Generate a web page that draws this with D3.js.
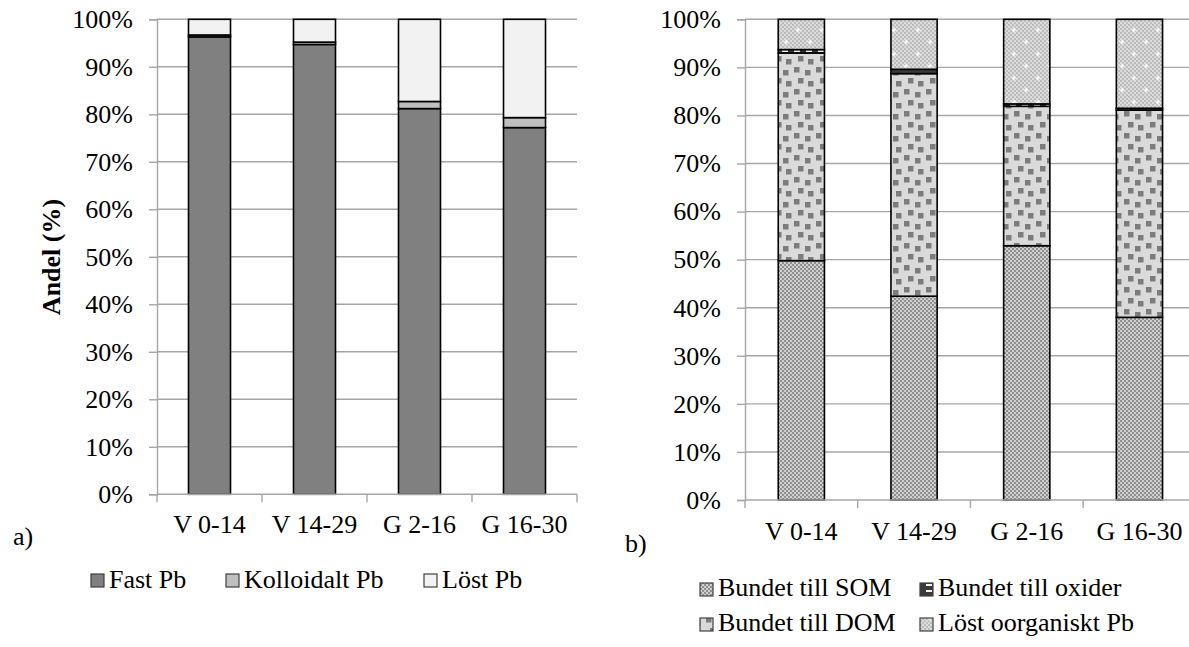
<!DOCTYPE html>
<html>
<head>
<meta charset="utf-8">
<script src="https://cdn.jsdelivr.net/npm/d3@7"></script>
<style>
  html, body { margin: 0; padding: 0; background: #fff; }
  svg { display: block; }
  svg text { font-family: "Liberation Serif", "DejaVu Serif", serif; }
</style>
</head>
<body>
<svg id="chart" width="1189" height="647"></svg>
<script>
// Sample depths
const categories = ["V 0-14", "V 14-29", "G 2-16", "G 16-30"];

// a) Pb fractions (%)
const fastPb       = [96.3, 94.7, 81.2, 77.2];
const kolloidaltPb = [0.4, 0.5, 1.5, 2.1];
const lostPb       = [3.3, 4.8, 17.3, 20.7];

// b) Pb speciation (%)
const bundetSOM     = [49.8, 42.4, 52.9, 38.0];
const bundetDOM     = [43.2, 46.3, 29.0, 43.1];
const bundetOxider  = [0.7, 0.9, 0.5, 0.4];
const lostOrganiskt = [6.3, 10.4, 17.6, 18.5];

const yTicks = [0, 10, 20, 30, 40, 50, 60, 70, 80, 90, 100];

const seriesA = [
  { key: "Fast Pb", values: fastPb },
  { key: "Kolloidalt Pb", values: kolloidaltPb },
  { key: "Löst Pb", values: lostPb }
];
const seriesB = [
  { key: "Bundet till SOM", values: bundetSOM },
  { key: "Bundet till DOM", values: bundetDOM },
  { key: "Bundet till oxider", values: bundetOxider },
  { key: "Löst oorganiskt Pb", values: lostOrganiskt }
];

const svg = d3.select("#chart");
const FONT = 26;
const gridColor = "#a6a6a6";

// ---- fill patterns for panel b ----
const defs = svg.append("defs");

// fine checker (SOM)
const pSOM = defs.append("pattern").attr("id", "pSOM")
  .attr("patternUnits", "userSpaceOnUse").attr("width", 4).attr("height", 4);
pSOM.append("rect").attr("width", 4).attr("height", 4).attr("fill", "#cfcfcf");
pSOM.append("rect").attr("width", 2).attr("height", 2).attr("fill", "#909090");
pSOM.append("rect").attr("x", 2).attr("y", 2).attr("width", 2).attr("height", 2).attr("fill", "#909090");

// scattered squares (DOM)
const pDOM = defs.append("pattern").attr("id", "pDOM")
  .attr("patternUnits", "userSpaceOnUse").attr("width", 22).attr("height", 22);
pDOM.append("rect").attr("width", 22).attr("height", 22).attr("fill", "#dadada");
[[2, 1], [13, 4], [6, 12], [16, 15]].forEach(([px, py]) => {
  pDOM.append("rect").attr("x", px).attr("y", py).attr("width", 5.5).attr("height", 5.5)
    .attr("fill", "#7c7c7c");
});

// dashes (oxider)
const pOX = defs.append("pattern").attr("id", "pOX")
  .attr("patternUnits", "userSpaceOnUse").attr("width", 12).attr("height", 6);
pOX.append("rect").attr("width", 12).attr("height", 6).attr("fill", "#3a3a3a");
pOX.append("rect").attr("x", 2).attr("y", 2).attr("width", 6).attr("height", 2).attr("fill", "#f4f4f4");

// light checker with faint crosses (löst oorganiskt)
const pLO = defs.append("pattern").attr("id", "pLO")
  .attr("patternUnits", "userSpaceOnUse").attr("width", 24).attr("height", 24);
for (let i = 0; i < 24; i += 2) {
  for (let j = 0; j < 24; j += 2) {
    pLO.append("rect").attr("x", i).attr("y", j).attr("width", 2).attr("height", 2)
      .attr("fill", ((i + j) / 2) % 2 === 0 ? "#bcbcbc" : "#dcdcdc");
  }
}
[[6, 6], [18, 18]].forEach(([cx, cy]) => {
  pLO.append("rect").attr("x", cx - 2.5).attr("y", cy - 0.75).attr("width", 5).attr("height", 1.5).attr("fill", "#f6f6f6");
  pLO.append("rect").attr("x", cx - 0.75).attr("y", cy - 2.5).attr("width", 1.5).attr("height", 5).attr("fill", "#f6f6f6");
});

const fillsA = { "Fast Pb": "#808080", "Kolloidalt Pb": "#bfbfbf", "Löst Pb": "#f2f2f2" };
const fillsB = {
  "Bundet till SOM": "url(#pSOM)",
  "Bundet till DOM": "url(#pDOM)",
  "Bundet till oxider": "url(#pOX)",
  "Löst oorganiskt Pb": "url(#pLO)"
};

function drawPanel(opt) {
  const { x0, x1, yTop, yBottom, series, fills, padInner, padOuter } = opt;
  const g = svg.append("g");

  const x = d3.scaleBand().domain(categories).range([x0, x1])
    .paddingInner(padInner).paddingOuter(padOuter);
  const y = d3.scaleLinear().domain([0, 100]).range([yBottom, yTop]);

  // horizontal gridlines
  g.append("g").selectAll("line").data(yTicks.filter(d => d > 0)).join("line")
    .attr("x1", x0).attr("x2", x1)
    .attr("y1", d => y(d)).attr("y2", d => y(d))
    .attr("stroke", gridColor).attr("stroke-width", 1.4);

  // y axis
  const yAxis = g.append("g").attr("transform", `translate(${x0},0)`)
    .call(d3.axisLeft(y).tickValues(yTicks).tickFormat(d => d + "%")
      .tickSize(8).tickPadding(16));
  yAxis.select(".domain").attr("stroke", gridColor).attr("stroke-width", 1.4);
  yAxis.selectAll(".tick line").attr("stroke", gridColor).attr("stroke-width", 1.4);
  yAxis.selectAll(".tick text").attr("font-size", FONT).attr("fill", "#000");

  // stacked bars
  const table = categories.map((c, i) => {
    const row = { cat: c };
    series.forEach(s => { row[s.key] = s.values[i]; });
    return row;
  });
  const stacked = d3.stack().keys(series.map(s => s.key))(table);
  g.append("g").selectAll("g").data(stacked).join("g")
    .attr("fill", d => fills[d.key])
    .selectAll("rect").data(d => d).join("rect")
    .attr("x", d => x(d.data.cat))
    .attr("width", x.bandwidth())
    .attr("y", d => y(d[1]))
    .attr("height", d => y(d[0]) - y(d[1]))
    .attr("stroke", "#000").attr("stroke-width", 1.6);

  // x axis baseline and boundary ticks
  const step = x.step();
  const bounds = categories.map(c => x(c) - step * padInner / 2)
    .concat([x(categories[categories.length - 1]) + x.bandwidth() + step * padInner / 2]);
  g.append("line").attr("x1", x0).attr("x2", x1)
    .attr("y1", y(0)).attr("y2", y(0))
    .attr("stroke", gridColor).attr("stroke-width", 1.4);
  g.append("g").selectAll("line").data(bounds).join("line")
    .attr("x1", d => d).attr("x2", d => d)
    .attr("y1", y(0)).attr("y2", y(0) + 8)
    .attr("stroke", gridColor).attr("stroke-width", 1.4);

  g.append("g").selectAll("text").data(categories).join("text")
    .attr("x", d => x(d) + x.bandwidth() / 2)
    .attr("y", opt.labelBaseline)
    .attr("text-anchor", "middle")
    .attr("font-size", FONT)
    .text(d => d);

  return { x, y };
}

// ---- panel a ----
drawPanel({
  x0: 157, x1: 577, yTop: 19.3, yBottom: 494.3,
  series: seriesA, fills: fillsA, padInner: 0.6, padOuter: 0.3,
  labelBaseline: 533
});

svg.append("text")
  .attr("transform", "translate(60,257) rotate(-90)")
  .attr("text-anchor", "middle")
  .attr("font-size", FONT).attr("font-weight", "bold")
  .text("Andel (%)");

svg.append("text").attr("x", 13).attr("y", 545).attr("font-size", FONT).text("a)");

// legend a
const legA = svg.append("g");
const legAPos = [91, 226, 424];
seriesA.forEach((s, i) => {
  legA.append("rect").attr("x", legAPos[i]).attr("y", 574).attr("width", 13).attr("height", 13)
    .attr("fill", fillsA[s.key]).attr("stroke", "#404040").attr("stroke-width", 1.2);
  legA.append("text").attr("x", legAPos[i] + 18).attr("y", 588)
    .attr("font-size", FONT).text(s.key);
});

// ---- panel b ----
drawPanel({
  x0: 745, x1: 1195.8, yTop: 19.3, yBottom: 500,
  series: seriesB, fills: fillsB, padInner: 0.59, padOuter: 0.295,
  labelBaseline: 540
});

svg.append("text").attr("x", 625).attr("y", 552).attr("font-size", FONT).text("b)");

// legend b (two rows)
const legB = svg.append("g");
const legBLayout = [
  { key: "Bundet till SOM", x: 700, y: 596 },
  { key: "Bundet till oxider", x: 920, y: 596 },
  { key: "Bundet till DOM", x: 700, y: 631 },
  { key: "Löst oorganiskt Pb", x: 920, y: 631 }
];
legBLayout.forEach(d => {
  legB.append("rect").attr("x", d.x).attr("y", d.y - 13).attr("width", 13).attr("height", 13)
    .attr("fill", fillsB[d.key]).attr("stroke", "#404040").attr("stroke-width", 1.2);
  legB.append("text").attr("x", d.x + 18).attr("y", d.y)
    .attr("font-size", FONT).text(d.key);
});
</script>
</body>
</html>
